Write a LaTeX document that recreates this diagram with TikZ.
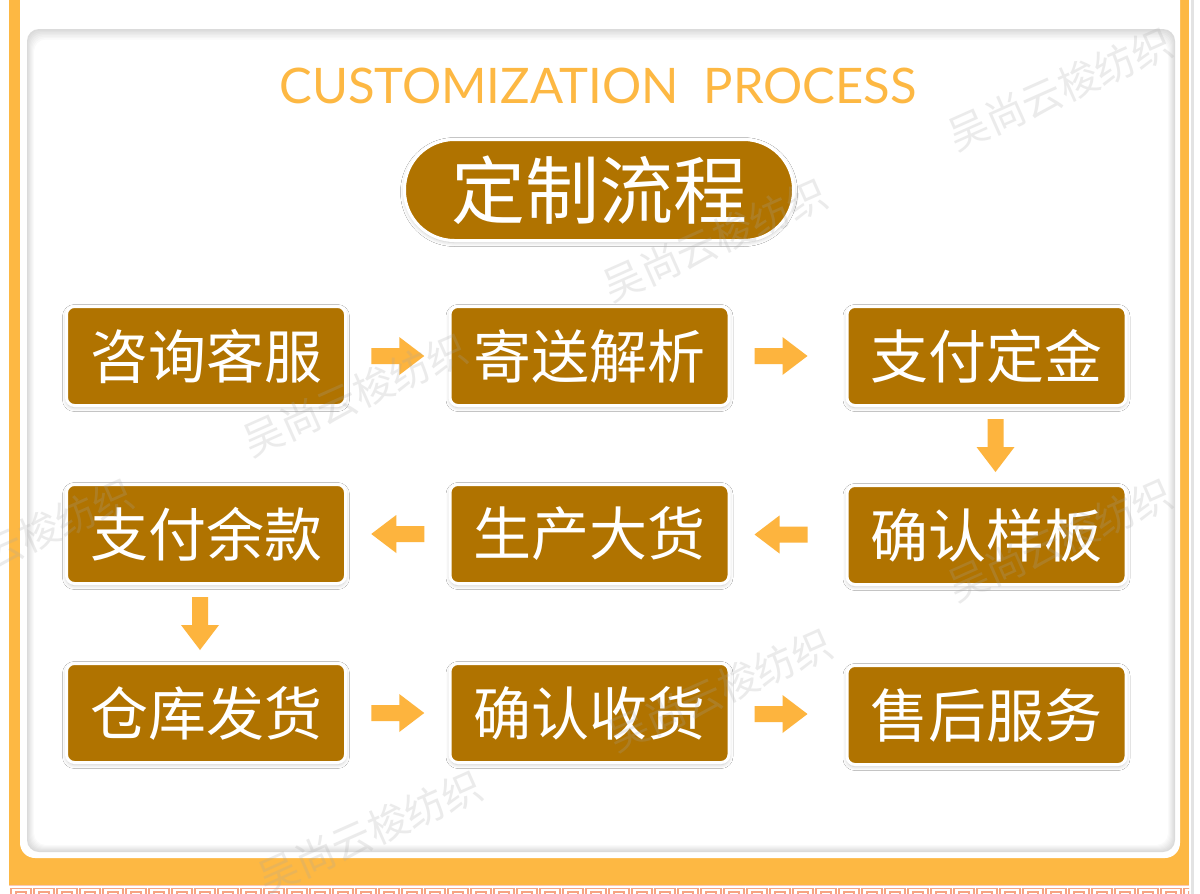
\documentclass[tikz,border=0pt]{standalone}
\usepackage{fontspec}
\newfontfamily\cjk{Noto Sans CJK SC}
\newfontfamily\titlefont{Lato}
\usetikzlibrary{calc,shadows.blur}
\definecolor{frameor}{HTML}{FDB843}
\definecolor{arrowor}{HTML}{FDB43E}
\definecolor{boxbrown}{HTML}{B07300}
\definecolor{fretc}{HTML}{F6A483}
\tikzset{
  stepbox/.style={draw=white, line width=3pt, fill=boxbrown, rounded corners=8pt,
    minimum width=279pt, minimum height=99pt, inner sep=0pt, text=white,
    font=\cjk\fontsize{58}{60}\selectfont,
    blur shadow={shadow xshift=0pt, shadow yshift=-2pt, shadow blur steps=8, shadow blur radius=4pt, shadow opacity=22}},
  pillbox/.style={stepbox, rounded corners=50pt, minimum width=389pt, minimum height=101pt,
    font=\cjk\fontsize{74}{76}\selectfont},
  entitle/.style={text=frameor, font=\titlefont\fontsize{49}{49}\selectfont, inner sep=0pt},
  wm/.style={text=gray!70, opacity=0.22, font=\cjk\fontsize{40}{40}\selectfont, rotate=24, inner sep=0pt},
  blockarrow/.pic={\fill[arrowor] (-26.5,-8) -- (1.5,-8) -- (1.5,-19) -- (26.5,0) -- (1.5,19) -- (1.5,8) -- (-26.5,8) -- cycle;}
}
\begin{document}
\begin{tikzpicture}[x=1pt,y=-1pt]
\useasboundingbox (0,0) rectangle (1200,894);
\fill[white] (0,0) rectangle (1200,894);
% orange frame
\fill[frameor] (9,0) rectangle (1189,885);
\fill[gray!22] (1191,0) rectangle (1194,894);
\fill[white] (20,0) [rounded corners=15pt] -- (20,858) -- (1180,858) [sharp corners] -- (1180,0) -- cycle;
% fret band
\fill[white] (9,885) rectangle (1189,894);
\draw[fretc!60, line width=1pt] (9,885.5) -- (1189,885.5);
\begin{scope}
\clip (9,886) rectangle (1189,894);
\foreach \x in {10,33,...,1200} {
  \draw[fretc, line width=1.4pt] (\x+1,888.5) rectangle (\x+21,899);
  \draw[fretc, line width=1.2pt] (\x+6,892) rectangle (\x+16,899);
}
\end{scope}
% inner panel with inset shadow
\foreach \i in {0,...,7} {
  \pgfmathsetmacro{\shade}{14-2*\i}
  \fill[black!\shade, rounded corners=12pt] (27+\i,29+1.5*\i) rectangle (1175-\i,852-\i);
}
% titles
\node[entitle] (en) at (598,86) {CUSTOMIZATION\hspace{0.5em}PROCESS};
\node[pillbox] (title) at (599,190) {定制流程};
% steps
\node[stepbox] (n1) at (206,356) {咨询客服};
\node[stepbox] (n2) at (589.5,356) {寄送解析};
\node[stepbox] (n3) at (986.5,356) {支付定金};
\node[stepbox] (n4) at (986.5,535) {确认样板};
\node[stepbox] (n5) at (589.5,534) {生产大货};
\node[stepbox] (n6) at (206,534) {支付余款};
\node[stepbox] (n7) at (206,713) {仓库发货};
\node[stepbox] (n8) at (589.5,713) {确认收货};
\node[stepbox] (n9) at (986.5,715) {售后服务};
% arrows
\pic at ($(n1.east)!0.5!(n2.west)$) {blockarrow};
\pic at ($(n2.east)!0.5!(n3.west)+(-7,0)$) {blockarrow};
\pic[rotate=-90] at ($(n3.south)!0.5!(n4.north)+(9,0)$) {blockarrow};
\pic[rotate=180] at ($(n4.west)!0.5!(n5.east)+(-7,0)$) {blockarrow};
\pic[rotate=180] at ($(n5.west)!0.5!(n6.east)$) {blockarrow};
\pic[rotate=-90] at ($(n6.south)!0.5!(n7.north)+(-6,0)$) {blockarrow};
\pic at ($(n7.east)!0.5!(n8.west)$) {blockarrow};
\pic at ($(n8.east)!0.5!(n9.west)+(-7,0)$) {blockarrow};
% watermarks
\node[wm] (w1) at (1060,89) {吴尚云梭纺织};
\node[wm] (w2) at (715,240) {吴尚云梭纺织};
\node[wm] (w3) at (355,395) {吴尚云梭纺织};
\node[wm] (w4) at (21,540) {吴尚云梭纺织};
\node[wm] (w5) at (1060,540) {吴尚云梭纺织};
\node[wm] (w6) at (720,690) {吴尚云梭纺织};
\node[wm] (w7) at (370,832) {吴尚云梭纺织};
\end{tikzpicture}
\end{document}
